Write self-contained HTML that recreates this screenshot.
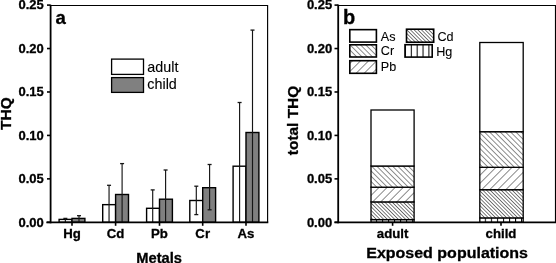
<!DOCTYPE html>
<html><head><meta charset="utf-8"><style>
html,body{margin:0;padding:0;background:#fff;}
svg{display:block;will-change:transform;}
text{font-family:"Liberation Sans", sans-serif;fill:#000;stroke:#000;stroke-width:0.1px;} text[font-weight="bold"]{stroke-width:0.3px;}
</style></head><body>
<svg width="556" height="263" viewBox="0 0 556 263">
<defs>
<pattern id="pCr" patternUnits="userSpaceOnUse" width="3.712" height="10" patternTransform="rotate(-45)">
  <line x1="0.39" y1="-1" x2="0.39" y2="11" stroke="#333" stroke-width="0.6" shape-rendering="crispEdges"/>
</pattern>
<pattern id="pPb" patternUnits="userSpaceOnUse" width="5.702" height="10" patternTransform="rotate(45)">
  <line x1="1.457" y1="-1" x2="1.457" y2="11" stroke="#333" stroke-width="0.6" shape-rendering="crispEdges"/>
</pattern>
<pattern id="pCd" patternUnits="userSpaceOnUse" width="2.592" height="10" patternTransform="rotate(-45)">
  <line x1="2.496" y1="-1" x2="2.496" y2="11" stroke="#222" stroke-width="0.68" shape-rendering="crispEdges"/>
  <line x1="-0.096" y1="-1" x2="-0.096" y2="11" stroke="#222" stroke-width="0.68" shape-rendering="crispEdges"/>
</pattern>
<pattern id="pHg" patternUnits="userSpaceOnUse" x="375.9" width="6.05" height="10">
  <line x1="0.5" y1="0" x2="0.5" y2="10" stroke="#000" stroke-width="1"/>
</pattern>
<pattern id="pHgL" patternUnits="userSpaceOnUse" x="410.8" width="5.87" height="10">
  <line x1="0.5" y1="0" x2="0.5" y2="10" stroke="#000" stroke-width="1"/>
</pattern>
</defs>
<rect width="556" height="263" fill="#fff"/>
<path d="M50.6 5.5 H267.6 V222.3" fill="none" stroke="#000" stroke-width="1.15"/>
<rect x="59.10" y="219.4" width="12.9" height="2.90" fill="#fff" stroke="#000" stroke-width="1.4"/>
<rect x="72.00" y="218.4" width="12.9" height="3.90" fill="#808080" stroke="#000" stroke-width="1.4"/>
<line x1="65.35" y1="218.4" x2="65.35" y2="222.3" stroke="#151515" stroke-width="1.15"/>
<line x1="63.35" y1="218.4" x2="67.35" y2="218.4" stroke="#151515" stroke-width="1.3"/>
<line x1="79.00" y1="215.7" x2="79.00" y2="222.3" stroke="#151515" stroke-width="1.15"/>
<line x1="77.00" y1="215.7" x2="81.00" y2="215.7" stroke="#151515" stroke-width="1.3"/>
<rect x="102.70" y="204.65" width="12.9" height="17.65" fill="#fff" stroke="#000" stroke-width="1.4"/>
<rect x="115.60" y="194.5" width="12.9" height="27.80" fill="#808080" stroke="#000" stroke-width="1.4"/>
<line x1="109.05" y1="185.3" x2="109.05" y2="222.3" stroke="#151515" stroke-width="1.15"/>
<line x1="107.05" y1="185.3" x2="111.05" y2="185.3" stroke="#151515" stroke-width="1.3"/>
<line x1="122.10" y1="163.6" x2="122.10" y2="222.3" stroke="#151515" stroke-width="1.15"/>
<line x1="120.10" y1="163.6" x2="124.10" y2="163.6" stroke="#151515" stroke-width="1.3"/>
<rect x="146.60" y="208.3" width="12.9" height="14.00" fill="#fff" stroke="#000" stroke-width="1.4"/>
<rect x="159.50" y="199.2" width="12.9" height="23.10" fill="#808080" stroke="#000" stroke-width="1.4"/>
<line x1="152.70" y1="189.9" x2="152.70" y2="222.3" stroke="#151515" stroke-width="1.15"/>
<line x1="150.70" y1="189.9" x2="154.70" y2="189.9" stroke="#151515" stroke-width="1.3"/>
<line x1="165.60" y1="170.0" x2="165.60" y2="222.3" stroke="#151515" stroke-width="1.15"/>
<line x1="163.60" y1="170.0" x2="167.60" y2="170.0" stroke="#151515" stroke-width="1.3"/>
<rect x="189.80" y="200.5" width="12.9" height="21.80" fill="#fff" stroke="#000" stroke-width="1.4"/>
<rect x="202.70" y="187.7" width="12.9" height="34.60" fill="#808080" stroke="#000" stroke-width="1.4"/>
<line x1="196.30" y1="186.2" x2="196.30" y2="214.6" stroke="#151515" stroke-width="1.15"/>
<line x1="194.30" y1="186.2" x2="198.30" y2="186.2" stroke="#151515" stroke-width="1.3"/>
<line x1="194.30" y1="214.6" x2="198.30" y2="214.6" stroke="#151515" stroke-width="1.3"/>
<line x1="209.60" y1="164.5" x2="209.60" y2="209.8" stroke="#151515" stroke-width="1.15"/>
<line x1="207.60" y1="164.5" x2="211.60" y2="164.5" stroke="#151515" stroke-width="1.3"/>
<line x1="207.60" y1="209.8" x2="211.60" y2="209.8" stroke="#151515" stroke-width="1.3"/>
<rect x="233.10" y="166.2" width="12.9" height="56.10" fill="#fff" stroke="#000" stroke-width="1.4"/>
<rect x="246.00" y="132.5" width="12.9" height="89.80" fill="#808080" stroke="#000" stroke-width="1.4"/>
<line x1="239.60" y1="102.5" x2="239.60" y2="222.3" stroke="#151515" stroke-width="1.15"/>
<line x1="237.60" y1="102.5" x2="241.60" y2="102.5" stroke="#151515" stroke-width="1.3"/>
<line x1="252.50" y1="30.1" x2="252.50" y2="222.3" stroke="#151515" stroke-width="1.15"/>
<line x1="250.50" y1="30.1" x2="254.50" y2="30.1" stroke="#151515" stroke-width="1.3"/>
<line x1="50.6" y1="4.8" x2="50.6" y2="223.3" stroke="#000" stroke-width="1.8"/>
<line x1="46.3" y1="222.3" x2="268.3" y2="222.3" stroke="#000" stroke-width="1.8"/>
<line x1="47.0" y1="222.30" x2="50.6" y2="222.30" stroke="#000" stroke-width="1.6"/>
<text x="43.8" y="226.65" text-anchor="end" font-weight="bold" font-size="13">0.00</text>
<line x1="47.0" y1="178.86" x2="50.6" y2="178.86" stroke="#000" stroke-width="1.6"/>
<text x="43.8" y="183.21" text-anchor="end" font-weight="bold" font-size="13">0.05</text>
<line x1="47.0" y1="135.42" x2="50.6" y2="135.42" stroke="#000" stroke-width="1.6"/>
<text x="43.8" y="139.77" text-anchor="end" font-weight="bold" font-size="13">0.10</text>
<line x1="47.0" y1="91.98" x2="50.6" y2="91.98" stroke="#000" stroke-width="1.6"/>
<text x="43.8" y="96.33" text-anchor="end" font-weight="bold" font-size="13">0.15</text>
<line x1="47.0" y1="48.54" x2="50.6" y2="48.54" stroke="#000" stroke-width="1.6"/>
<text x="43.8" y="52.89" text-anchor="end" font-weight="bold" font-size="13">0.20</text>
<line x1="47.0" y1="5.10" x2="50.6" y2="5.10" stroke="#000" stroke-width="1.6"/>
<text x="43.8" y="9.45" text-anchor="end" font-weight="bold" font-size="13">0.25</text>
<line x1="72.0" y1="222.3" x2="72.0" y2="225.8" stroke="#000" stroke-width="1.6"/>
<text x="72.0" y="238.3" text-anchor="middle" font-weight="bold" font-size="13.2">Hg</text>
<line x1="115.6" y1="222.3" x2="115.6" y2="225.8" stroke="#000" stroke-width="1.6"/>
<text x="115.6" y="238.3" text-anchor="middle" font-weight="bold" font-size="13.2">Cd</text>
<line x1="159.5" y1="222.3" x2="159.5" y2="225.8" stroke="#000" stroke-width="1.6"/>
<text x="159.5" y="238.3" text-anchor="middle" font-weight="bold" font-size="13.2">Pb</text>
<line x1="202.7" y1="222.3" x2="202.7" y2="225.8" stroke="#000" stroke-width="1.6"/>
<text x="202.7" y="238.3" text-anchor="middle" font-weight="bold" font-size="13.2">Cr</text>
<line x1="246.0" y1="222.3" x2="246.0" y2="225.8" stroke="#000" stroke-width="1.6"/>
<text x="246.0" y="238.3" text-anchor="middle" font-weight="bold" font-size="13.2">As</text>
<text x="159.2" y="262.6" text-anchor="middle" font-weight="bold" font-size="14.7">Metals</text>
<text transform="translate(11.3 113.6) rotate(-90) scale(1.06 1)" text-anchor="middle" font-weight="bold" font-size="14.6">THQ</text>
<text x="55.5" y="23.7" font-weight="bold" font-size="18.6">a</text>
<rect x="111.6" y="59.1" width="31.9" height="15.3" fill="#fff" stroke="#000" stroke-width="1.3"/>
<rect x="111.6" y="77.6" width="31.9" height="14.8" fill="#808080" stroke="#000" stroke-width="1.3"/>
<text transform="translate(147.3 71.7) scale(1.04 1)" font-size="13.8">adult</text>
<text transform="translate(147.3 89.1) scale(1.04 1)" font-size="13.8">child</text>
<path d="M338.2 5.5 H555.5 V222.3" fill="none" stroke="#000" stroke-width="1.15"/>
<rect x="371.0" y="219.6" width="43.10" height="2.70" fill="#fff"/>
<rect x="371.0" y="219.6" width="43.10" height="2.70" fill="url(#pHg)" stroke="#000" stroke-width="1.3"/>
<rect x="371.0" y="201.9" width="43.10" height="17.70" fill="#fff"/>
<rect x="371.0" y="201.9" width="43.10" height="17.70" fill="url(#pCd)" stroke="#000" stroke-width="1.3"/>
<rect x="371.0" y="187.2" width="43.10" height="14.70" fill="#fff"/>
<rect x="371.0" y="187.2" width="43.10" height="14.70" fill="url(#pPb)" stroke="#000" stroke-width="1.3"/>
<rect x="371.0" y="166.0" width="43.10" height="21.20" fill="#fff"/>
<rect x="371.0" y="166.0" width="43.10" height="21.20" fill="url(#pCr)" stroke="#000" stroke-width="1.3"/>
<rect x="371.0" y="110.0" width="43.10" height="56.00" fill="#fff"/>
<rect x="371.0" y="110.0" width="43.10" height="56.00" fill="#fff" stroke="#000" stroke-width="1.3"/>
<rect x="479.8" y="217.9" width="43.40" height="4.40" fill="#fff"/>
<rect x="479.8" y="217.9" width="43.40" height="4.40" fill="url(#pHg)" stroke="#000" stroke-width="1.3"/>
<rect x="479.8" y="189.7" width="43.40" height="28.20" fill="#fff"/>
<rect x="479.8" y="189.7" width="43.40" height="28.20" fill="url(#pCd)" stroke="#000" stroke-width="1.3"/>
<rect x="479.8" y="167.3" width="43.40" height="22.40" fill="#fff"/>
<rect x="479.8" y="167.3" width="43.40" height="22.40" fill="url(#pPb)" stroke="#000" stroke-width="1.3"/>
<rect x="479.8" y="131.7" width="43.40" height="35.60" fill="#fff"/>
<rect x="479.8" y="131.7" width="43.40" height="35.60" fill="url(#pCr)" stroke="#000" stroke-width="1.3"/>
<rect x="479.8" y="42.5" width="43.40" height="89.20" fill="#fff"/>
<rect x="479.8" y="42.5" width="43.40" height="89.20" fill="#fff" stroke="#000" stroke-width="1.3"/>
<line x1="338.2" y1="4.6" x2="338.2" y2="223.3" stroke="#000" stroke-width="1.8"/>
<line x1="334.5" y1="222.3" x2="556.2" y2="222.3" stroke="#000" stroke-width="1.8"/>
<line x1="334.5" y1="222.30" x2="338.2" y2="222.30" stroke="#000" stroke-width="1.6"/>
<text x="332.2" y="226.65" text-anchor="end" font-weight="bold" font-size="13">0.00</text>
<line x1="334.5" y1="178.86" x2="338.2" y2="178.86" stroke="#000" stroke-width="1.6"/>
<text x="332.2" y="183.21" text-anchor="end" font-weight="bold" font-size="13">0.05</text>
<line x1="334.5" y1="135.42" x2="338.2" y2="135.42" stroke="#000" stroke-width="1.6"/>
<text x="332.2" y="139.77" text-anchor="end" font-weight="bold" font-size="13">0.10</text>
<line x1="334.5" y1="91.98" x2="338.2" y2="91.98" stroke="#000" stroke-width="1.6"/>
<text x="332.2" y="96.33" text-anchor="end" font-weight="bold" font-size="13">0.15</text>
<line x1="334.5" y1="48.54" x2="338.2" y2="48.54" stroke="#000" stroke-width="1.6"/>
<text x="332.2" y="52.89" text-anchor="end" font-weight="bold" font-size="13">0.20</text>
<line x1="334.5" y1="5.10" x2="338.2" y2="5.10" stroke="#000" stroke-width="1.6"/>
<text x="332.2" y="9.45" text-anchor="end" font-weight="bold" font-size="13">0.25</text>
<line x1="392.6" y1="222.3" x2="392.6" y2="225.8" stroke="#000" stroke-width="1.6"/>
<text x="392.6" y="238.3" text-anchor="middle" font-weight="bold" font-size="13.2">adult</text>
<line x1="501.0" y1="222.3" x2="501.0" y2="225.8" stroke="#000" stroke-width="1.6"/>
<text x="501.0" y="238.3" text-anchor="middle" font-weight="bold" font-size="13.2">child</text>
<text transform="translate(447.1 258.0) scale(1.075 1)" text-anchor="middle" font-weight="bold" font-size="14.9">Exposed populations</text>
<text transform="translate(298.3 120.5) rotate(-90)" text-anchor="middle" font-weight="bold" font-size="15.4">total THQ</text>
<text x="343.1" y="23.7" font-weight="bold" font-size="20">b</text>
<rect x="349.8" y="29.65" width="26.60" height="12.45" fill="#fff"/>
<rect x="349.8" y="29.65" width="26.60" height="12.45" fill="#fff" stroke="#000" stroke-width="1.6"/>
<text x="380.8" y="40.50" font-size="12.6">As</text>
<rect x="349.8" y="44.8" width="26.60" height="12.20" fill="#fff"/>
<rect x="349.8" y="44.8" width="26.60" height="12.20" fill="url(#pCr)" stroke="#000" stroke-width="1.6"/>
<text x="380.8" y="55.40" font-size="12.6">Cr</text>
<rect x="349.8" y="60.7" width="26.60" height="12.60" fill="#fff"/>
<rect x="349.8" y="60.7" width="26.60" height="12.60" fill="url(#pPb)" stroke="#000" stroke-width="1.6"/>
<text x="380.8" y="70.60" font-size="12.6">Pb</text>
<rect x="406.5" y="29.2" width="27.20" height="13.00" fill="#fff"/>
<rect x="406.5" y="29.2" width="27.20" height="13.00" fill="url(#pCd)" stroke="#000" stroke-width="1.6"/>
<text x="437.4" y="40.60" font-size="12.6">Cd</text>
<rect x="405.0" y="44.7" width="27.20" height="12.40" fill="#fff"/>
<rect x="405.0" y="44.7" width="27.20" height="12.40" fill="url(#pHgL)" stroke="#000" stroke-width="1.6"/>
<text x="436.2" y="55.70" font-size="12.6">Hg</text>
</svg>
</body></html>
